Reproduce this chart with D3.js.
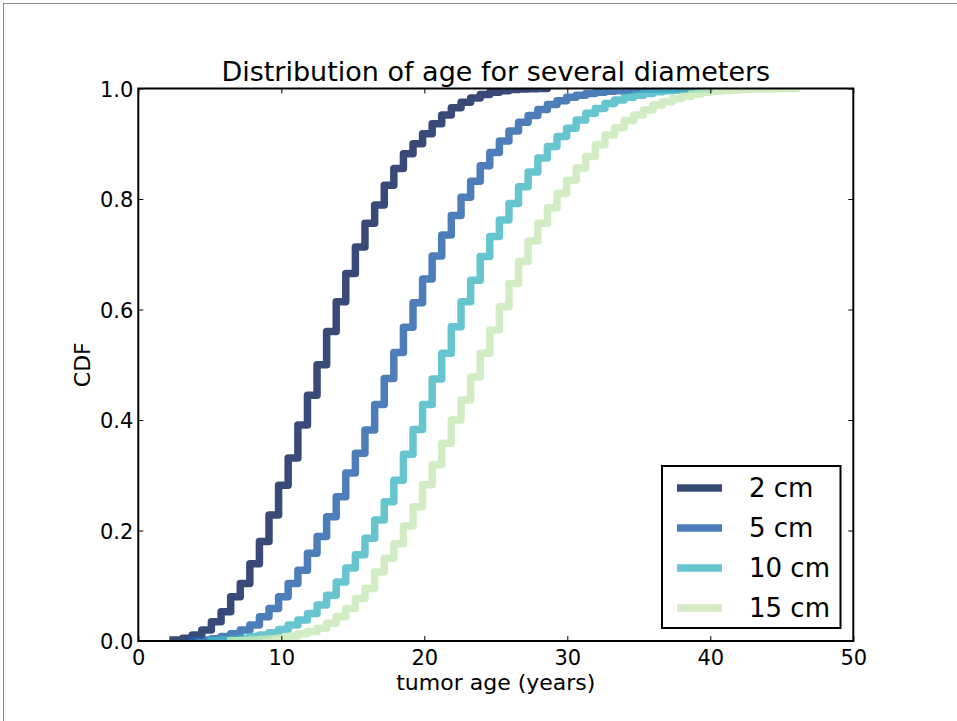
<!DOCTYPE html>
<html>
<head>
<meta charset="utf-8">
<script src="https://cdn.jsdelivr.net/npm/d3@7"></script>
<style>
  html, body { margin: 0; padding: 0; background: #fff; }
  svg { display: block; font-family: "DejaVu Sans", sans-serif; }
</style>
</head>
<body>
<svg id="chart" width="957" height="721"></svg>
<script>
// ---- data ----
const ages = [2.43, 3.10, 3.77, 4.44, 5.11, 5.79, 6.46, 7.13, 7.80, 8.47,
  9.14, 9.81, 10.48, 11.16, 11.83, 12.50, 13.17, 13.84, 14.51, 15.18,
  15.85, 16.53, 17.20, 17.87, 18.54, 19.21, 19.88, 20.55, 21.22, 21.89,
  22.57, 23.24, 23.91, 24.58, 25.25, 25.92, 26.59, 27.26, 27.94, 28.61,
  29.28, 29.95, 30.62, 31.29, 31.96, 32.63, 33.30, 33.98, 34.65, 35.32,
  35.99, 36.66, 37.33, 38.00, 38.67, 39.35, 40.02, 40.69, 41.36, 42.03,
  42.70, 43.37, 44.04, 44.72, 45.39, 46.06];

const seriesNames = ["2 cm", "5 cm", "10 cm", "15 cm"];
const seriesColors = ["#081d58", "#225ea8", "#41b6c4", "#c7e9b4"];

const cdf2 = [0.002, 0.005, 0.011, 0.020, 0.035, 0.053, 0.080, 0.104, 0.140, 0.180,
  0.228, 0.282, 0.331, 0.391, 0.445, 0.500, 0.560, 0.614, 0.665, 0.713,
  0.756, 0.789, 0.825, 0.855, 0.882, 0.900, 0.918, 0.936, 0.952, 0.965,
  0.975, 0.983, 0.989, 0.993, 0.996, 0.998, 0.999, 0.9995, 0.9998, 1.0];

const cdf5 = [null, null, 0.001, 0.002, 0.004, 0.008, 0.013, 0.020, 0.029, 0.044,
  0.059, 0.080, 0.104, 0.128, 0.159, 0.189, 0.225, 0.261, 0.304, 0.340,
  0.382, 0.428, 0.475, 0.522, 0.568, 0.612, 0.655, 0.697, 0.735, 0.770,
  0.803, 0.832, 0.860, 0.884, 0.905, 0.923, 0.939, 0.951, 0.962, 0.971,
  0.978, 0.984, 0.988, 0.991, 0.993, 0.995, 0.996, 0.997, 0.998, 0.9985,
  0.999, 0.9993, 0.9996, 0.9998, 1.0];

const cdf10 = [null, null, null, null, 0.001, 0.002, 0.003, 0.005, 0.008, 0.011,
  0.015, 0.021, 0.029, 0.038, 0.050, 0.065, 0.083, 0.107, 0.132, 0.156,
  0.186, 0.219, 0.252, 0.291, 0.338, 0.383, 0.428, 0.474, 0.521, 0.569,
  0.614, 0.653, 0.696, 0.732, 0.762, 0.792, 0.822, 0.849, 0.874, 0.895,
  0.913, 0.928, 0.943, 0.955, 0.964, 0.973, 0.979, 0.984, 0.988, 0.991,
  0.994, 0.996, 0.997, 0.998, 0.999, 0.9995, 1.0];

const cdf15 = [null, null, null, null, null, null, 0.0005, 0.001, 0.002, 0.003,
  0.004, 0.006, 0.009, 0.013, 0.017, 0.023, 0.032, 0.044, 0.059, 0.077,
  0.095, 0.125, 0.150, 0.176, 0.208, 0.243, 0.283, 0.319, 0.358, 0.400,
  0.436, 0.478, 0.521, 0.563, 0.605, 0.647, 0.687, 0.724, 0.756, 0.784,
  0.810, 0.834, 0.856, 0.877, 0.898, 0.916, 0.929, 0.942, 0.952, 0.961,
  0.970, 0.976, 0.982, 0.986, 0.990, 0.993, 0.995, 0.9965, 0.9975, 0.9983,
  0.999, 0.9993, 0.9996, 0.9998, 0.9999, 1.0];

const seriesValues = [cdf2, cdf5, cdf10, cdf15];

const xTicks = [0, 10, 20, 30, 40, 50];
const yTicks = [0.0, 0.2, 0.4, 0.6, 0.8, 1.0];

const titleText = "Distribution of age for several diameters";
const xLabel = "tumor age (years)";
const yLabel = "CDF";

// ---- layout ----
const svg = d3.select("#chart");
const L = 138.3, R = 853.3, T = 88.5, B = 641;
const x = d3.scaleLinear().domain([0, 50]).range([L, R]);
const y = d3.scaleLinear().domain([0, 1]).range([B, T]);

// page border
svg.append("rect").attr("x", 3.5).attr("y", 3.5).attr("width", 1200).attr("height", 1000)
  .attr("fill", "none").attr("stroke", "#8a8a8a").attr("stroke-width", 1);

svg.append("defs").append("clipPath").attr("id", "plotclip")
  .append("rect").attr("x", L).attr("y", T).attr("width", R - L).attr("height", B - T);

// lines
const line = d3.line()
  .defined(d => d[1] != null)
  .x(d => x(d[0])).y(d => y(d[1]))
  .curve(d3.curveStepAfter);

const plot = svg.append("g").attr("clip-path", "url(#plotclip)");
seriesValues.forEach((vals, i) => {
  const pts = vals.map((v, k) => [ages[k], v]);
  plot.append("path")
    .attr("d", line(pts))
    .attr("fill", "none")
    .attr("stroke", seriesColors[i])
    .attr("stroke-opacity", 0.8)
    .attr("stroke-width", 7.5)
    .attr("stroke-linejoin", "round")
    .attr("stroke-linecap", "square");
});

// axes (ticks inward)
const fs = 21;
const gx = svg.append("g").attr("transform", `translate(0,${B})`)
  .call(d3.axisBottom(x).tickValues(xTicks).tickFormat(d3.format("d")).tickSizeInner(-5).tickSizeOuter(0).tickPadding(10));
const gxt = svg.append("g").attr("transform", `translate(0,${T})`)
  .call(d3.axisTop(x).tickValues(xTicks).tickFormat("").tickSizeInner(-5).tickSizeOuter(0));
const gy = svg.append("g").attr("transform", `translate(${L},0)`)
  .call(d3.axisLeft(y).tickValues(yTicks).tickFormat(d3.format(".1f")).tickSizeInner(-5).tickSizeOuter(0).tickPadding(5));
const gyr = svg.append("g").attr("transform", `translate(${R},0)`)
  .call(d3.axisRight(y).tickValues(yTicks).tickFormat("").tickSizeInner(-5).tickSizeOuter(0));
[gx, gxt, gy, gyr].forEach(g => {
  g.select(".domain").remove();
  g.selectAll(".tick line").attr("stroke", "#000").attr("stroke-width", 1);
  g.selectAll(".tick text").attr("fill", "#000").attr("font-size", fs)
    .attr("font-family", "DejaVu Sans, sans-serif");
});
gx.selectAll(".tick text").attr("dy", "0.71em").attr("y", 9);
gy.selectAll(".tick text").attr("x", -5).attr("dy", "0.36em");

// frame
svg.append("rect").attr("x", L).attr("y", T).attr("width", R - L).attr("height", B - T)
  .attr("fill", "none").attr("stroke", "#000").attr("stroke-width", 2);

// title and labels
svg.append("text").attr("x", (L + R) / 2).attr("y", 81).attr("text-anchor", "middle")
  .attr("font-size", 27).attr("fill", "#000").text(titleText);
svg.append("text").attr("x", (L + R) / 2).attr("y", 690).attr("text-anchor", "middle")
  .attr("font-size", 22).attr("fill", "#000").text(xLabel);
svg.append("text").attr("transform", `translate(90,${(T + B) / 2}) rotate(-90)`)
  .attr("text-anchor", "middle").attr("font-size", 22).attr("fill", "#000").text(yLabel);

// legend
const lg = svg.append("g");
lg.append("rect").attr("x", 662).attr("y", 466).attr("width", 178.5).attr("height", 162)
  .attr("fill", "#fff").attr("stroke", "#000").attr("stroke-width", 2);
const rowY = d3.scaleLinear().domain([0, 3]).range([488, 608]);
seriesNames.forEach((name, i) => {
  lg.append("line").attr("x1", 677).attr("x2", 722).attr("y1", rowY(i)).attr("y2", rowY(i))
    .attr("stroke", seriesColors[i]).attr("stroke-opacity", 0.8).attr("stroke-width", 7.5);
  lg.append("text").attr("x", 749).attr("y", rowY(i)).attr("dy", "0.36em")
    .attr("font-size", 26).attr("fill", "#000").text(name);
});
</script>
</body>
</html>
